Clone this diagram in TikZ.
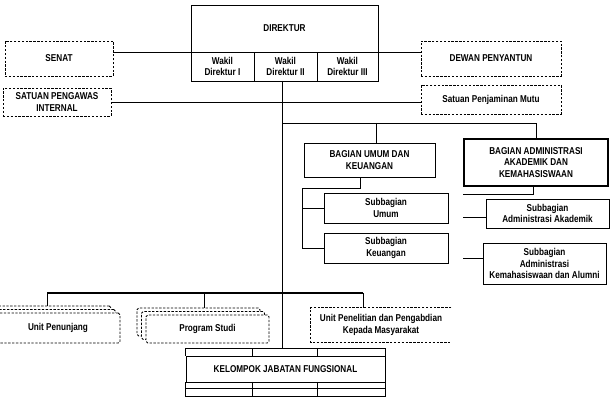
\documentclass[tikz,border=0pt]{standalone}
\usepackage{fontspec}
\setmainfont{Liberation Sans}[FakeStretch=0.82]
\usetikzlibrary{positioning}
\tikzset{
  unit/.style={draw, fill=white, inner sep=1pt, align=center,
    font=\bfseries\fontsize{8.5}{9.6}\selectfont},
  dunit/.style={unit, dash pattern=on 2pt off 1.3pt},
  stackunit/.style={dunit, rounded corners=1.5pt},
  link/.style={line width=0.7pt},
  mainlink/.style={line width=1.5pt}
}

\begin{document}
\begin{tikzpicture}[x=0.03cm, y=-0.03cm, line width=0.7pt]
\useasboundingbox (0,0) rectangle (610,400);

% pimpinan
\node[unit, minimum width=5.61cm, minimum height=1.41cm] (dir) at (284.5,28.5) {DIREKTUR};
\node[unit, minimum width=1.89cm, minimum height=0.87cm] (wk1) at (222.5,66.5) {Wakil\\Direktur I};
\node[unit, minimum width=1.89cm, minimum height=0.87cm] (wk2) at (285.5,66.5) {Wakil\\Direktur II};
\node[unit, minimum width=1.83cm, minimum height=0.87cm] (wk3) at (347.5,66.5) {Wakil\\Direktur III};
\draw[mainlink] (dir.south west) -- (dir.south east);

\node[dunit, minimum width=3.24cm, minimum height=1.05cm] (senat) at (59,58.5) {SENAT};
\node[dunit, minimum width=4.2cm, minimum height=1.05cm] (dewan) at (491,58.5) {DEWAN PENYANTUN};
\node[dunit, minimum width=3.24cm, minimum height=0.84cm] (spi) at (57,102) {SATUAN PENGAWAS\\INTERNAL};
\node[dunit, minimum width=4.2cm, minimum height=0.87cm] (spm) at (491,99.5) {Satuan Penjaminan Mutu};

\draw[link] (senat.east |- dir.south) -- (dir.south west);
\draw[link] (dir.south east) -- (dewan.west |- dir.south);

% bagian
\node[unit, minimum width=3.93cm, minimum height=1.02cm] (bau) at (369.5,160) {BAGIAN UMUM DAN\\KEUANGAN};
\node[unit, line width=0.9pt, minimum width=4.32cm, minimum height=1.41cm] (baak) at (536,162.5) {BAGIAN ADMINISTRASI\\AKADEMIK DAN\\KEMAHASISWAAN};
\node[unit, minimum width=3.72cm, minimum height=0.9cm] (su) at (386,208) {Subbagian\\Umum};
\node[unit, minimum width=3.72cm, minimum height=0.9cm] (sk) at (386,248) {Subbagian\\Keuangan};
\node[unit, minimum width=3.69cm, minimum height=0.87cm] (saa) at (547.5,213.5) {Subbagian\\Administrasi Akademik};
\node[unit, minimum width=3.69cm, minimum height=1.23cm] (sakm) at (544.5,263.5) {Subbagian\\Administrasi\\Kemahasiswaan dan Alumni};

% unit
\node[stackunit, minimum width=3.72cm, minimum height=0.9cm] (up3) at (49,321) {};
\node[stackunit, minimum width=3.72cm, minimum height=0.9cm] (up2) at (53.5,324.5) {};
\node[stackunit, minimum width=3.72cm, minimum height=0.9cm] (up) at (58,328) {Unit Penunjang};
\node[stackunit, minimum width=3.69cm, minimum height=0.84cm] (ps3) at (198.5,322) {};
\node[stackunit, minimum width=3.69cm, minimum height=0.84cm] (ps2) at (203,325.5) {};
\node[stackunit, minimum width=3.69cm, minimum height=0.84cm] (ps) at (207.5,329) {Program Studi};
\node[unit, draw=none, minimum width=4.2cm, minimum height=1.02cm] (upkm) at (381,325) {Unit Penelitian dan Pengabdian\\Kepada Masyarakat};
\draw[dash pattern=on 2pt off 1.3pt] (upkm.north east) -- (upkm.north west) -- (upkm.south west) -- (upkm.south east);

\node[unit, minimum width=5.97cm, minimum height=0.78cm] (kjf) at (285.5,369) {KELOMPOK JABATAN FUNGSIONAL};
\draw (kjf.north west) -- ++(0,-7) -| (kjf.north east);
\draw (kjf.south west) -- ++(0,14) -| (kjf.south east);
\draw (kjf.south west) ++(0,6) -- ++(199,0);
\foreach \x in {252,317} {
  \draw (\x,349) -- (\x,356);
  \draw (\x,382) -- (\x,396);
}

% garis
\coordinate (top) at (282,81);
\coordinate (bot) at (282,349);
\coordinate (jb) at (282,123);
\coordinate (jbl) at (302,188);
\coordinate (jbr) at (463,194);
\coordinate (ju) at (47,293);
\coordinate (jp) at (204,293);
\coordinate (jr) at (363,293);

\draw[link] (top) -- (bot);
\draw[link] (spi.east) -- (spm.west |- spi.east);
\draw[link] (jb) -| (baak.north);
\draw[link] (376,123) -- (376,0 |- bau.north);
\draw[link] (360,0 |- bau.south) |- (jbl) -- (302,0 |- sk.west) -- (sk.west);
\draw[link] (302,0 |- su.west) -- (su.west);
\draw[link] (533,0 |- baak.south) |- (jbr);
\draw[link] (463,217) -- (saa.west |- 463,217);
\draw[link] (463,258) -- (sakm.west |- 463,258);
\draw[mainlink] (ju) -- (jr);
\draw[link] (ju) -- (up3.north -| ju);
\draw[link] (jp) -- (ps3.north -| jp);
\draw[link] (jr) -- (upkm.north -| jr);
\end{tikzpicture}
\end{document}
